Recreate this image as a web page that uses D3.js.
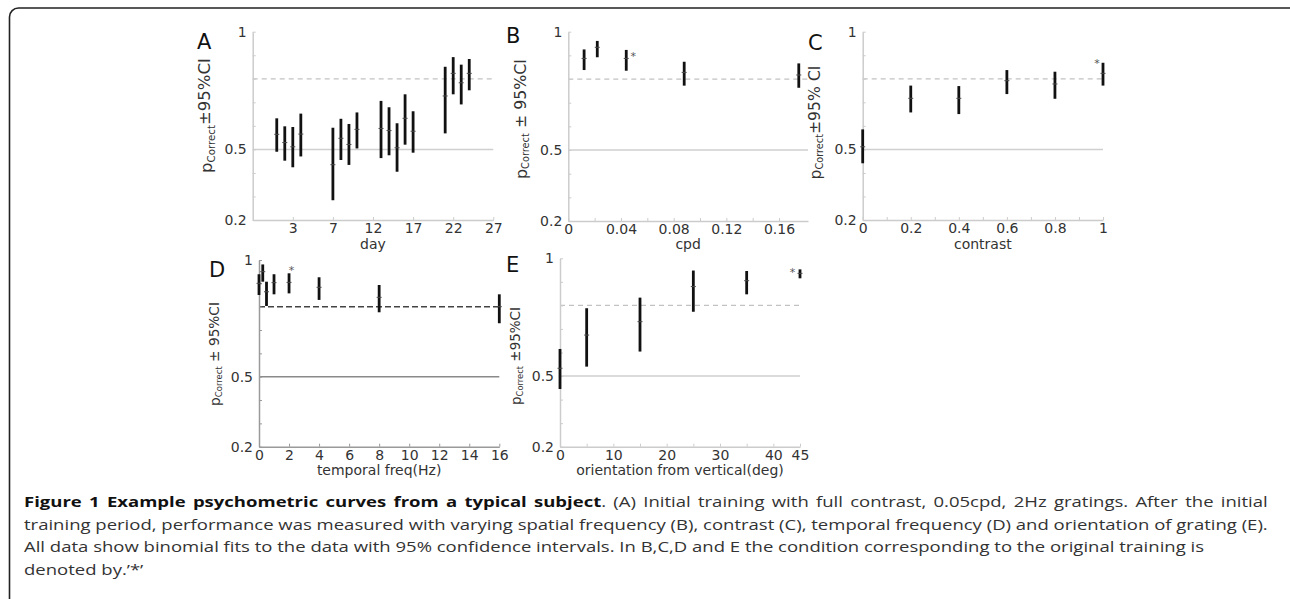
<!DOCTYPE html>
<html>
<head>
<meta charset="utf-8">
<script src="https://cdn.jsdelivr.net/npm/d3@7"></script>
<style>
  body { margin: 0; background: #fff; }
  svg { display: block; }
  text { font-family: "DejaVu Sans", sans-serif; }
</style>
</head>
<body>
<svg id="fig" width="1290" height="599"></svg>
<script>
// ---- data: point estimate and 95% CI ----
// A: day
var dayX   = [0, 1, 2, 3, 7, 8, 9, 10, 13, 14, 15, 16, 17, 21, 22, 23, 24];
var dayMid = [0.564, 0.529, 0.511, 0.565, 0.435, 0.547, 0.521, 0.585, 0.589, 0.580, 0.507, 0.632, 0.577, 0.727, 0.823, 0.783, 0.823];
var dayLo  = [0.490, 0.452, 0.424, 0.470, 0.284, 0.455, 0.434, 0.504, 0.463, 0.475, 0.405, 0.520, 0.486, 0.568, 0.734, 0.691, 0.751];
var dayHi  = [0.632, 0.598, 0.595, 0.652, 0.592, 0.630, 0.608, 0.657, 0.706, 0.679, 0.611, 0.734, 0.662, 0.851, 0.892, 0.860, 0.884];
var dayTicks = [2, 7, 12, 17, 22, 27];
var dayTickLabels = ["3", "7", "12", "17", "22", "27"];

// B: spatial frequency (cpd)
var cpdX   = [0.012, 0.022, 0.044, 0.088, 0.175];
var cpdMid = [0.887, 0.934, 0.887, 0.828, 0.817];
var cpdLo  = [0.838, 0.892, 0.835, 0.772, 0.763];
var cpdHi  = [0.925, 0.961, 0.923, 0.873, 0.866];
var cpdStar = 2;
var cpdTicks = [0, 0.02, 0.04, 0.06, 0.08, 0.10, 0.12, 0.14, 0.16];
var cpdTickLabels = ["0", "", "0.04", "", "0.08", "", "0.12", "", "0.16"];

// C: contrast
var conX   = [0, 0.2, 0.4, 0.6, 0.8, 1];
var conMid = [0.511, 0.717, 0.717, 0.792, 0.778, 0.823];
var conLo  = [0.441, 0.657, 0.650, 0.735, 0.715, 0.771];
var conHi  = [0.585, 0.771, 0.769, 0.837, 0.830, 0.868];
var conStar = 5;
var conTicks = [0, 0.1, 0.2, 0.3, 0.4, 0.5, 0.6, 0.7, 0.8, 0.9, 1];
var conTickLabels = ["0", "", "0.2", "", "0.4", "", "0.6", "", "0.8", "", "1"];

// D: temporal frequency (Hz)
var tfX   = [0, 0.25, 0.5, 1, 2, 4, 8, 16];
var tfMid = [0.900, 0.950, 0.864, 0.903, 0.904, 0.883, 0.840, 0.800];
var tfLo  = [0.850, 0.907, 0.803, 0.853, 0.857, 0.829, 0.776, 0.729];
var tfHi  = [0.939, 0.981, 0.907, 0.939, 0.943, 0.926, 0.893, 0.853];
var tfStar = 4;
var tfTicks = [0, 2, 4, 6, 8, 10, 12, 14, 16];
var tfTickLabels = ["0", "2", "4", "6", "8", "10", "12", "14", "16"];

// E: orientation from vertical (deg)
var oriX   = [0, 5, 15, 25, 35, 45];
var oriMid = [0.533, 0.674, 0.731, 0.880, 0.905, 0.936];
var oriLo  = [0.445, 0.540, 0.604, 0.773, 0.847, 0.915];
var oriHi  = [0.615, 0.788, 0.833, 0.948, 0.946, 0.953];
var oriStar = 5;
var oriTicks = [0, 5, 10, 15, 20, 25, 30, 35, 40, 45];
var oriTickLabels = ["0", "", "10", "", "20", "", "30", "", "40", "45"];

var yTicks = [0.2, 0.3, 0.4, 0.5, 0.6, 0.7, 0.8, 0.9, 1];
var yTickLabels = ["0.2", "", "", "0.5", "", "", "", "", "1"];
var chance = 0.5;
var criterion = 0.8;

var svg = d3.select('#fig');

// rounded frame around the figure
svg.append('rect')
  .attr('x', 9.5).attr('y', 8)
  .attr('width', 1290).attr('height', 700)
  .attr('rx', 9)
  .attr('fill', 'none')
  .attr('stroke', '#222')
  .attr('stroke-width', 1.6);

function panel(p) {
  var x = d3.scaleLinear().domain(p.xDomain).range([p.left, p.right]);
  var y = d3.scaleLinear().domain([0.2, 1]).range([p.bottom, p.top]);
  var g = svg.append('g');

  // chance and criterion lines
  g.append('line')
    .attr('x1', p.left).attr('x2', p.right)
    .attr('y1', y(chance)).attr('y2', y(chance))
    .attr('stroke', p.dark ? '#8a8a8a' : '#cfcfcf')
    .attr('stroke-width', 1.5);
  g.append('line')
    .attr('x1', p.left).attr('x2', p.right)
    .attr('y1', y(criterion)).attr('y2', y(criterion))
    .attr('stroke', p.dark ? '#444' : '#c2c2c2')
    .attr('stroke-width', p.dark ? 1.6 : 1.2)
    .attr('stroke-dasharray', p.dark ? '6,3' : '5,4');

  var axisColor = p.dark ? '#9a9a9a' : '#cccccc';

  var yAxis = g.append('g')
    .attr('transform', 'translate(' + p.left + ',0)')
    .call(d3.axisLeft(y)
      .tickValues(yTicks)
      .tickFormat(function (d, i) { return yTickLabels[i]; })
      .tickSizeInner(-3).tickSizeOuter(0).tickPadding(6));

  var xAxis = g.append('g')
    .attr('transform', 'translate(0,' + p.bottom + ')')
    .call(d3.axisBottom(x)
      .tickValues(p.ticks)
      .tickFormat(function (d, i) { return p.tickLabels[i]; })
      .tickSizeInner(-3).tickSizeOuter(0).tickPadding(3));

  [yAxis, xAxis].forEach(function (a) {
    a.select('.domain').attr('stroke', axisColor).attr('stroke-width', 1.5);
    a.selectAll('.tick line').attr('stroke', axisColor);
    a.selectAll('.tick text')
      .attr('fill', '#333')
      .style('font-size', '14px')
      .style('font-family', '"DejaVu Sans", sans-serif');
  });

  // error bars
  var bars = g.append('g').selectAll('g')
    .data(p.xs.map(function (v, i) { return { x: v, mid: p.mid[i], lo: p.lo[i], hi: p.hi[i] }; }))
    .enter().append('g');
  bars.append('line')
    .attr('x1', function (d) { return x(d.x); })
    .attr('x2', function (d) { return x(d.x); })
    .attr('y1', function (d) { return y(d.lo); })
    .attr('y2', function (d) { return y(d.hi); })
    .attr('stroke', '#111')
    .attr('stroke-width', 2.8);
  bars.append('line')
    .attr('x1', function (d) { return x(d.x) - 2.5; })
    .attr('x2', function (d) { return x(d.x) + 2.5; })
    .attr('y1', function (d) { return y(d.mid); })
    .attr('y2', function (d) { return y(d.mid); })
    .attr('stroke', '#4a4a4a')
    .attr('stroke-width', 1);

  // training condition
  if (p.star != null) {
    g.append('text')
      .attr('x', x(p.xs[p.star]) + p.starDx)
      .attr('y', y(p.hi[p.star]) + p.starDy)
      .attr('text-anchor', 'middle')
      .attr('fill', '#555')
      .style('font-size', '11px')
      .text('*');
  }

  // panel letter
  g.append('text')
    .attr('x', p.letterX).attr('y', p.letterY)
    .attr('fill', '#111')
    .style('font-size', '21px')
    .text(p.letter);

  // x title
  g.append('text')
    .attr('x', (p.left + p.right) / 2).attr('y', p.xTitleY)
    .attr('text-anchor', 'middle')
    .attr('fill', '#333')
    .style('font-size', '14px')
    .text(p.xTitle);

  // y title: p_Correct ± 95%CI
  var yt = g.append('text')
    .attr('transform', 'translate(' + p.yTitleX + ',' + p.yTitleY + ') rotate(-90)')
    .attr('text-anchor', 'middle')
    .attr('fill', '#333')
    .style('font-size', '15px');
  yt.append('tspan').text('p');
  yt.append('tspan').attr('dy', '0.25em').style('font-size', '0.62em').text('Correct');
  yt.append('tspan').attr('dy', '-0.25em').text(p.ciText);
  var len = yt.node().getComputedTextLength();
  yt.style('font-size', (15 * p.yTitleLen / len) + 'px');
}

var panels = [
  { letter: 'A', letterX: 197, letterY: 49, left: 252.7, right: 493.3, top: 31.7, bottom: 220,
    xDomain: [-3, 27], ticks: dayTicks, tickLabels: dayTickLabels,
    xs: dayX, mid: dayMid, lo: dayLo, hi: dayHi, star: null,
    xTitle: 'day', xTitleY: 249, yTitleX: 212, yTitleY: 115.5, yTitleLen: 115, ciText: '\u00b195%CI' },
  { letter: 'B', letterX: 506, letterY: 43, left: 568.3, right: 808, top: 31.7, bottom: 221,
    xDomain: [0, 0.182], ticks: cpdTicks, tickLabels: cpdTickLabels,
    xs: cpdX, mid: cpdMid, lo: cpdLo, hi: cpdHi, star: cpdStar, starDx: 7, starDy: 10,
    xTitle: 'cpd', xTitleY: 249, yTitleX: 527, yTitleY: 119, yTitleLen: 120, ciText: ' \u00b1 95%CI' },
  { letter: 'C', letterX: 808, letterY: 50, left: 862.7, right: 1103, top: 31.7, bottom: 220,
    xDomain: [0, 1], ticks: conTicks, tickLabels: conTickLabels,
    xs: conX, mid: conMid, lo: conLo, hi: conHi, star: conStar, starDx: -6, starDy: 4,
    xTitle: 'contrast', xTitleY: 249, yTitleX: 821, yTitleY: 122.5, yTitleLen: 114, ciText: '\u00b195% CI' },
  { letter: 'D', letterX: 209, letterY: 277, left: 259, right: 499.3, top: 260, bottom: 446.7,
    xDomain: [0, 16], ticks: tfTicks, tickLabels: tfTickLabels, dark: true,
    xs: tfX, mid: tfMid, lo: tfLo, hi: tfHi, star: tfStar, starDx: 2.5, starDy: 1,
    xTitle: 'temporal freq(Hz)', xTitleY: 475, yTitleX: 220, yTitleY: 354, yTitleLen: 104, ciText: ' \u00b1 95%CI' },
  { letter: 'E', letterX: 506, letterY: 272, left: 560, right: 800, top: 258.3, bottom: 446.7,
    xDomain: [0, 45], ticks: oriTicks, tickLabels: oriTickLabels,
    xs: oriX, mid: oriMid, lo: oriLo, hi: oriHi, star: oriStar, starDx: -7.5, starDy: 7,
    xTitle: 'orientation from vertical(deg)', xTitleY: 475, yTitleX: 521, yTitleY: 356, yTitleLen: 98, ciText: ' \u00b195%CI' }
];
panels.forEach(panel);

// caption (set wide in the source, first line justified)
var capLines = [
  [['Figure 1 Example psychometric curves from a typical subject', true],
   ['. (A) Initial training with full contrast, 0.05cpd, 2Hz gratings. After the initial', false]],
  [['training period, performance was measured with varying spatial frequency (B), contrast (C), temporal frequency (D) and orientation of grating (E).', false]],
  [['All data show binomial fits to the data with 95% confidence intervals. In B,C,D and E the condition corresponding to the original training is', false]],
  [['denoted by.\u2019*\u2019', false]]
];
var cap = svg.append('g');
var capTexts = [];
capLines.forEach(function (parts, i) {
  var t = cap.append('text')
    .attr('x', 0).attr('y', 507 + i * 22.6)
    .style('font-family', '"Open Sans", sans-serif')
    .style('font-size', '14px');
  parts.forEach(function (pt) {
    t.append('tspan')
      .style('font-weight', pt[1] ? 'bold' : 'normal')
      .attr('fill', pt[1] ? '#111' : '#333')
      .style('font-family', '"Open Sans", sans-serif')
      .text(pt[0]);
  });
  capTexts.push(t);
});
var k = 1244 / capTexts[1].node().getComputedTextLength();
var w0 = capTexts[0].node().getComputedTextLength();
var sp0 = capTexts[0].text().split(' ').length - 1;
capTexts[0].style('word-spacing', Math.max(0, (1244 / k - w0) / sp0) + 'px');
cap.attr('transform', 'translate(24,0) scale(' + k + ',1)');
</script>
</body>
</html>
